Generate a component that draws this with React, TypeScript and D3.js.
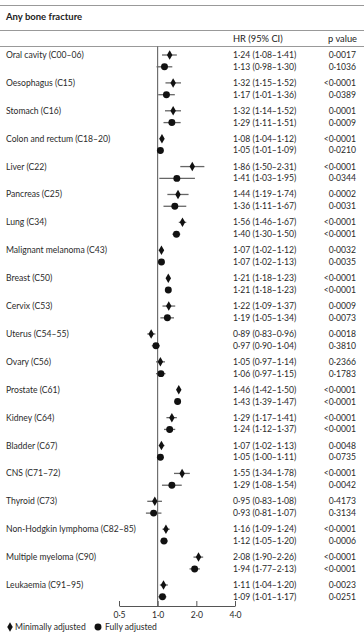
import React, { useRef, useEffect } from "react";
import * as d3 from "d3";

// cancer sites, one group per site
const sites = [
  "Oral cavity (C00–06)",
  "Oesophagus (C15)",
  "Stomach (C16)",
  "Colon and rectum (C18–20)",
  "Liver (C22)",
  "Pancreas (C25)",
  "Lung (C34)",
  "Malignant melanoma (C43)",
  "Breast (C50)",
  "Cervix (C53)",
  "Uterus (C54–55)",
  "Ovary (C56)",
  "Prostate (C61)",
  "Kidney (C64)",
  "Bladder (C67)",
  "CNS (C71–72)",
  "Thyroid (C73)",
  "Non-Hodgkin lymphoma (C82–85)",
  "Multiple myeloma (C90)",
  "Leukaemia (C91–95)",
];

// minimally adjusted
const minHR = [1.24, 1.32, 1.32, 1.08, 1.86, 1.44, 1.56, 1.07, 1.21, 1.22, 0.89, 1.05, 1.46, 1.29, 1.07, 1.55, 0.95, 1.16, 2.08, 1.11];
const minLo = [1.08, 1.15, 1.14, 1.04, 1.5, 1.19, 1.46, 1.02, 1.18, 1.09, 0.83, 0.97, 1.42, 1.17, 1.02, 1.34, 0.83, 1.09, 1.9, 1.04];
const minHi = [1.41, 1.52, 1.52, 1.12, 2.31, 1.74, 1.67, 1.12, 1.23, 1.37, 0.96, 1.14, 1.5, 1.41, 1.13, 1.78, 1.08, 1.24, 2.26, 1.2];
const minP = ["0·0017", "<0·0001", "0·0001", "<0·0001", "<0·0001", "0·0002", "<0·0001", "0·0032", "<0·0001", "0·0009", "0·0018", "0·2366", "<0·0001", "<0·0001", "0·0048", "<0·0001", "0·4173", "<0·0001", "<0·0001", "0·0023"];

// fully adjusted
const fullHR = [1.13, 1.17, 1.29, 1.05, 1.41, 1.36, 1.4, 1.07, 1.21, 1.19, 0.97, 1.06, 1.43, 1.24, 1.05, 1.29, 0.93, 1.12, 1.94, 1.09];
const fullLo = [0.98, 1.01, 1.11, 1.01, 1.03, 1.11, 1.3, 1.02, 1.18, 1.05, 0.9, 0.97, 1.39, 1.12, 1.0, 1.08, 0.81, 1.05, 1.77, 1.01];
const fullHi = [1.3, 1.36, 1.51, 1.09, 1.95, 1.67, 1.5, 1.13, 1.23, 1.34, 1.04, 1.15, 1.47, 1.37, 1.11, 1.54, 1.07, 1.2, 2.13, 1.17];
const fullP = ["0·1036", "0·0389", "0·0009", "0·0210", "0·0344", "0·0031", "<0·0001", "0·0035", "<0·0001", "0·0073", "0·3810", "0·1783", "<0·0001", "<0·0001", "0·0735", "0·0042", "0·3134", "0·0006", "<0·0001", "0·0251"];

const ticks = [0.5, 1, 2, 4];

const FONT = "Lato, 'Open Sans', sans-serif";
const FS = 8.6;

export default function App() {
  const svgRef = useRef<SVGSVGElement>(null);

  useEffect(() => {
    const width = 364;
    const height = 633;
    const svg = d3.select(svgRef.current);
    svg.selectAll("*").remove();
    svg.attr("width", width).attr("height", height);

    const fmt = (v: number) => d3.format(".2f")(v).replace(".", "·");
    const ci = (h: number, l: number, u: number) => `${fmt(h)} (${fmt(l)}–${fmt(u)})`;

    const x = d3.scaleLog().base(2).domain([0.5, 4]).range([119, 235]);
    const y = d3.scaleLinear().domain([0, sites.length - 1]).range([55, 585]);
    const off = 11.8;
    const axisY = 606;

    const rows = sites.map((s, i) => ({
      site: s,
      i,
      min: { hr: minHR[i], lo: minLo[i], hi: minHi[i], p: minP[i] },
      full: { hr: fullHR[i], lo: fullLo[i], hi: fullHi[i], p: fullP[i] },
    }));

    // rules
    const rule = (yy: number) =>
      svg.append("line").attr("x1", 0).attr("x2", width).attr("y1", yy).attr("y2", yy)
        .attr("stroke", "#999").attr("stroke-width", 1);
    rule(5.5);
    rule(30.5);
    rule(46.5);

    svg.append("text").attr("x", 6).attr("y", 17).attr("dy", "0.35em")
      .attr("font-family", FONT).attr("font-size", 9.5).attr("font-weight", 700)
      .attr("fill", "#222").text("Any bone fracture");

    svg.append("text").attr("x", 233).attr("y", 39).attr("dy", "0.35em")
      .attr("font-family", FONT).attr("font-size", 9.3).attr("fill", "#222").text("HR (95% CI)");
    svg.append("text").attr("x", 357).attr("y", 39).attr("dy", "0.35em").attr("text-anchor", "end")
      .attr("font-family", FONT).attr("font-size", 9.3).attr("fill", "#222").text("p value");

    // reference line at HR = 1
    svg.append("line").attr("x1", x(1)).attr("x2", x(1)).attr("y1", 46.5).attr("y2", axisY)
      .attr("stroke", "#555").attr("stroke-width", 1);

    const g = svg.selectAll("g.row").data(rows).join("g").attr("class", "row")
      .attr("font-family", FONT).attr("font-size", FS).attr("fill", "#2a2a2a");

    g.append("text").attr("x", 6).attr("y", (d) => y(d.i)).attr("dy", "0.35em").text((d) => d.site);

    // CI lines
    g.append("line").attr("x1", (d) => x(d.min.lo)).attr("x2", (d) => x(d.min.hi))
      .attr("y1", (d) => y(d.i)).attr("y2", (d) => y(d.i)).attr("stroke", "#666").attr("stroke-width", 1.3);
    g.append("line").attr("x1", (d) => x(d.full.lo)).attr("x2", (d) => x(d.full.hi))
      .attr("y1", (d) => y(d.i) + off).attr("y2", (d) => y(d.i) + off).attr("stroke", "#666").attr("stroke-width", 1.3);

    const diamond = d3.symbol(d3.symbolDiamond, 26);
    const circle = d3.symbol(d3.symbolCircle, 38);
    g.append("path").attr("d", diamond()).attr("fill", "#111")
      .attr("transform", (d) => `translate(${x(d.min.hr)},${y(d.i)})`);
    g.append("path").attr("d", circle()).attr("fill", "#111")
      .attr("transform", (d) => `translate(${x(d.full.hr)},${y(d.i) + off})`);

    g.append("text").attr("x", 233).attr("y", (d) => y(d.i)).attr("dy", "0.35em")
      .text((d) => ci(d.min.hr, d.min.lo, d.min.hi));
    g.append("text").attr("x", 233).attr("y", (d) => y(d.i) + off).attr("dy", "0.35em")
      .text((d) => ci(d.full.hr, d.full.lo, d.full.hi));
    g.append("text").attr("x", 356).attr("text-anchor", "end").attr("y", (d) => y(d.i)).attr("dy", "0.35em")
      .text((d) => d.min.p);
    g.append("text").attr("x", 356).attr("text-anchor", "end").attr("y", (d) => y(d.i) + off).attr("dy", "0.35em")
      .text((d) => d.full.p);

    // axis
    const axis = d3.axisBottom(x).tickValues(ticks).tickSize(-5).tickSizeOuter(0)
      .tickFormat((v) => d3.format(".1f")(v as number).replace(".", "·"));
    const ag = svg.append("g").attr("transform", `translate(0,${axisY})`).call(axis);
    ag.select(".domain").attr("stroke", "#555");
    ag.selectAll(".tick line").attr("stroke", "#555");
    ag.selectAll(".tick text").attr("font-family", FONT).attr("font-size", FS).attr("fill", "#2a2a2a").attr("y", 6);

    // legend
    const lg = svg.append("g").attr("font-family", FONT).attr("font-size", FS).attr("fill", "#2a2a2a");
    lg.append("path").attr("d", diamond()).attr("fill", "#111").attr("transform", "translate(10,627)");
    lg.append("text").attr("x", 15).attr("y", 627).attr("dy", "0.35em").text("Minimally adjusted");
    lg.append("path").attr("d", circle()).attr("fill", "#111").attr("transform", "translate(98,627)");
    lg.append("text").attr("x", 105).attr("y", 627).attr("dy", "0.35em").text("Fully adjusted");
  }, []);

  return <svg ref={svgRef} style={{ position: "absolute", left: 0, top: 0, background: "#fff" }} />;
}
